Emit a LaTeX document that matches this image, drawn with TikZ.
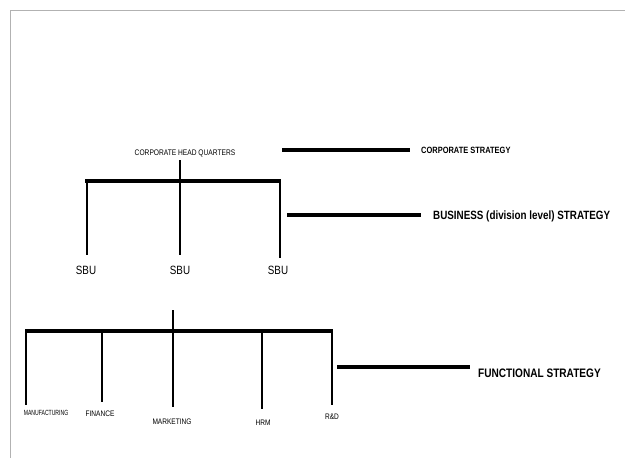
\documentclass[tikz,border=0pt]{standalone}
\usepackage{fontspec}
\setmainfont{Liberation Sans}
\newfontfamily\nar[FakeStretch=0.82]{Liberation Sans}
\newfontfamily\narr[FakeStretch=0.68]{Liberation Sans}
\begin{document}
\begin{tikzpicture}[x=1pt,y=-1pt,
  bar/.style={line width=4pt},
  stem/.style={line width=2pt},
  frame/.style={draw=black!30,line width=1pt},
  lbl/.style={inner sep=0pt,text=black}]
\useasboundingbox (0,0) rectangle (625,458);
% frame
\coordinate (f1) at (10.5,458);
\coordinate (f2) at (10.5,10.5);
\coordinate (f3) at (625,10.5);
\draw[frame] (f1) -- (f2) -- (f3);

% corporate level
\node[lbl,font=\nar\fontsize{8.1}{9}\selectfont] (hq) at (185,153) {CORPORATE HEAD QUARTERS};
\coordinate (hqs) at (180,160);
\coordinate (hqj) at (180,181);
\coordinate (bl) at (86,181);
\coordinate (br) at (280,181);
\draw[stem] (hqs) -- (hqj);
\draw[bar] ([xshift=-1pt]bl) -- ([xshift=1pt]br);

\node[lbl,font=\nar\fontsize{12}{14}\selectfont] (sbu1) at (86,270) {SBU};
\node[lbl,font=\nar\fontsize{12}{14}\selectfont] (sbu2) at (180,270) {SBU};
\node[lbl,font=\nar\fontsize{12}{14}\selectfont] (sbu3) at (278,270) {SBU};
\coordinate (s1) at (87,255);
\coordinate (s2) at (180,255);
\coordinate (s3) at (280,258);
\draw[stem] (87,181) -- (s1);
\draw[stem] (hqj) -- (s2);
\draw[stem] (br) -- (s3);

% strategy labels
\coordinate (c1) at (282,150);
\coordinate (c2) at (410,150);
\draw[bar] (c1) -- (c2);
\node[lbl,anchor=west,font=\nar\bfseries\fontsize{9.1}{11}\selectfont] (cs) at (421,150) {CORPORATE STRATEGY};

\coordinate (b1) at (287,215);
\coordinate (b2) at (421,215);
\draw[bar] (b1) -- (b2);
\node[lbl,anchor=west,font=\nar\bfseries\fontsize{12}{14}\selectfont] (bs) at (433,216) {BUSINESS (division level) STRATEGY};

% functional level
\coordinate (ft) at (173,310);
\coordinate (fj) at (173,331);
\coordinate (fl) at (25,331);
\coordinate (fr) at (333,331);
\draw[stem] (ft) -- (fj);
\draw[bar] (fl) -- (fr);

\coordinate (m1) at (26,405);
\coordinate (m2) at (102,402);
\coordinate (m3) at (173,407);
\coordinate (m4) at (262,409);
\coordinate (m5) at (332,405);
\draw[stem] (26,331) -- (m1);
\draw[stem] (102,331) -- (m2);
\draw[stem] (fj) -- (m3);
\draw[stem] (262,331) -- (m4);
\draw[stem] (332,331) -- (m5);

\node[lbl,font=\narr\fontsize{7.5}{9}\selectfont] (man) at (46,413) {MANUFACTURING};
\node[lbl,font=\nar\fontsize{8}{9}\selectfont] (fin) at (100,414) {FINANCE};
\node[lbl,font=\nar\fontsize{8}{9}\selectfont] (mkt) at (172,422) {MARKETING};
\node[lbl,font=\nar\fontsize{8}{9}\selectfont] (hrm) at (263,423) {HRM};
\node[lbl,font=\nar\fontsize{8}{9}\selectfont] (rd) at (332,417) {R\&D};

\coordinate (fs1) at (337,367);
\coordinate (fs2) at (470,367);
\draw[bar] (fs1) -- (fs2);
\node[lbl,anchor=west,font=\nar\bfseries\fontsize{12.3}{14}\selectfont] (fs) at (478,373) {FUNCTIONAL STRATEGY};
\end{tikzpicture}
\end{document}
